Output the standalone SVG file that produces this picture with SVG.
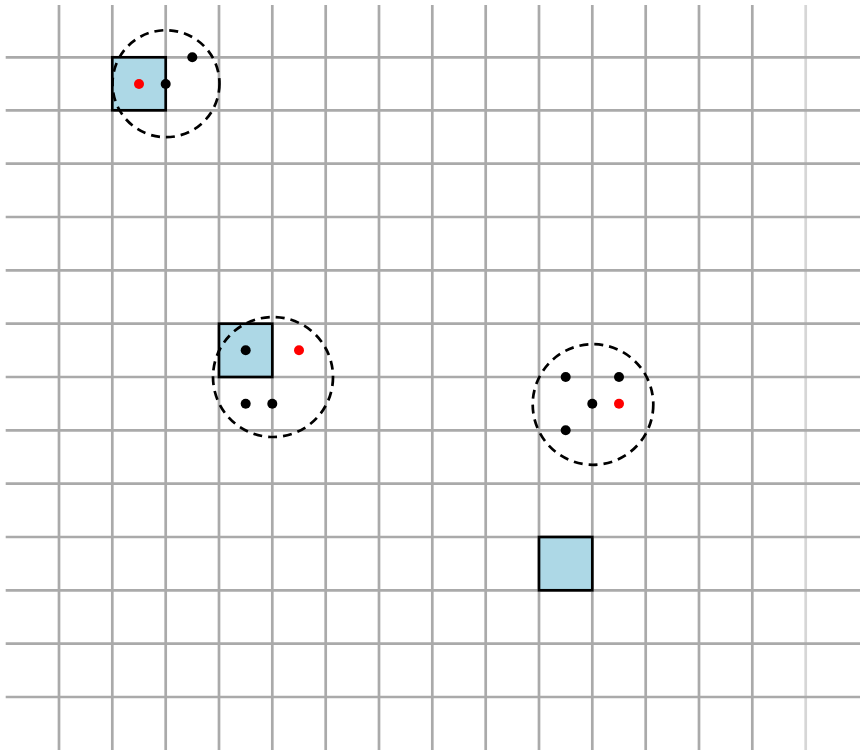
<svg xmlns="http://www.w3.org/2000/svg" width="860" height="753" viewBox="0 0 860 753">
<style>
.g line{stroke:#aaaaaa;stroke-width:2.7}
.sq{fill:#add8e6;stroke:#000;stroke-width:2.7}
.ring{fill:none;stroke:#000;stroke-width:2.7;stroke-dasharray:9,6}
.b{fill:#000}
.r{fill:#ff0000}
</style>
<rect width="860" height="753" fill="#fff"/>
<g id="grid" class="g">
<line x1="59" y1="5" x2="59" y2="750"/>
<line x1="112.3" y1="5" x2="112.3" y2="750"/>
<line x1="165.7" y1="5" x2="165.7" y2="750"/>
<line x1="219" y1="5" x2="219" y2="750"/>
<line x1="272.3" y1="5" x2="272.3" y2="750"/>
<line x1="325.7" y1="5" x2="325.7" y2="750"/>
<line x1="379" y1="5" x2="379" y2="750"/>
<line x1="432.3" y1="5" x2="432.3" y2="750"/>
<line x1="485.7" y1="5" x2="485.7" y2="750"/>
<line x1="539" y1="5" x2="539" y2="750"/>
<line x1="592.3" y1="5" x2="592.3" y2="750"/>
<line x1="645.7" y1="5" x2="645.7" y2="750"/>
<line x1="699" y1="5" x2="699" y2="750"/>
<line x1="752.3" y1="5" x2="752.3" y2="750"/>
<line x1="805.7" y1="5" x2="805.7" y2="750" style="stroke:#d6d6d6"/>
<line x1="5.7" y1="57.3" x2="860" y2="57.3"/>
<line x1="5.7" y1="110.3" x2="860" y2="110.3"/>
<line x1="5.7" y1="163.7" x2="860" y2="163.7"/>
<line x1="5.7" y1="217" x2="860" y2="217"/>
<line x1="5.7" y1="270.3" x2="860" y2="270.3"/>
<line x1="5.7" y1="323.7" x2="860" y2="323.7"/>
<line x1="5.7" y1="377" x2="860" y2="377"/>
<line x1="5.7" y1="430.3" x2="860" y2="430.3"/>
<line x1="5.7" y1="483.7" x2="860" y2="483.7"/>
<line x1="5.7" y1="537" x2="860" y2="537"/>
<line x1="5.7" y1="590.3" x2="860" y2="590.3"/>
<line x1="5.7" y1="643.7" x2="860" y2="643.7"/>
<line x1="5.7" y1="697" x2="860" y2="697"/>
</g>
<g id="cluster1">
<rect class="sq" x="112.3" y="57.3" width="53.4" height="53"/>
<circle class="ring" cx="166" cy="83.7" r="53.5"/>
<circle class="r" cx="139" cy="84" r="5"/>
<circle class="b" cx="165.7" cy="84" r="5"/>
<circle class="b" cx="192.3" cy="57.3" r="5"/>
</g>
<g id="cluster2">
<rect class="sq" x="219" y="323.7" width="53.3" height="53.3"/>
<circle class="ring" cx="273" cy="377" r="60"/>
<circle class="b" cx="245.7" cy="350.3" r="5"/>
<circle class="r" cx="299" cy="350.3" r="5"/>
<circle class="b" cx="245.7" cy="403.7" r="5"/>
<circle class="b" cx="272.3" cy="403.7" r="5"/>
</g>
<g id="cluster3">
<circle class="ring" cx="593" cy="404.5" r="60.3"/>
<circle class="b" cx="565.7" cy="377" r="5"/>
<circle class="b" cx="619" cy="377" r="5"/>
<circle class="b" cx="592.3" cy="403.7" r="5"/>
<circle class="r" cx="619" cy="403.7" r="5"/>
<circle class="b" cx="565.7" cy="430.3" r="5"/>
</g>
<g id="square3">
<rect class="sq" x="539" y="537" width="53.3" height="53.3"/>
</g>
</svg>
